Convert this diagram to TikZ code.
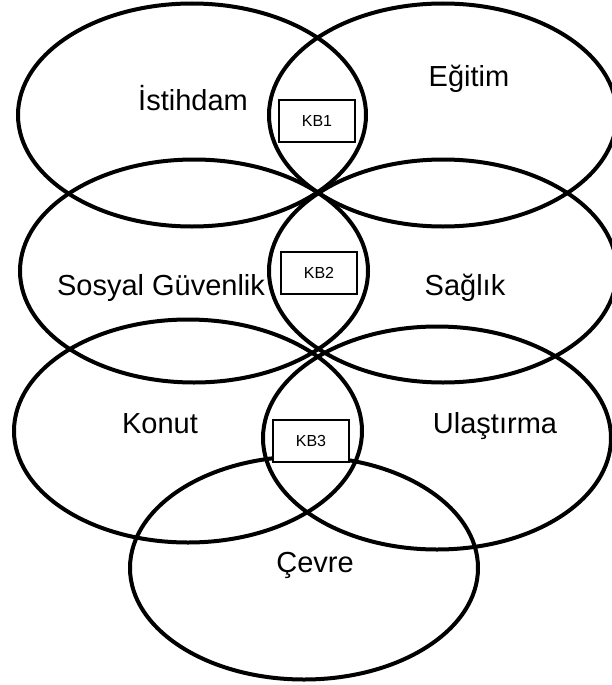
\documentclass[tikz,border=0pt]{standalone}
\usepackage{fontspec}
\setmainfont{Liberation Sans}
\usetikzlibrary{shapes.geometric}
\tikzset{
  area/.style={
    draw=black,ellipse,line width=4pt,minimum width=348pt,minimum height=223pt,inner sep=0pt,
  },
  arealabel/.style={
    anchor=base,inner sep=0pt,font=\fontsize{29}{30}\selectfont,
  },
  kbbox/.style={
    draw=black,fill=white,line width=1.2pt,minimum width=76pt,minimum height=42pt,inner sep=0pt,
    font=\fontsize{16}{17}\selectfont,
  },
}

\begin{document}
\begin{tikzpicture}[x=1pt,y=-1pt]
    \useasboundingbox (0,0) rectangle (612,685);
    \clip (0,0) rectangle (612,685);
    % areas
    \node [area] (istihdam) at (192,115) {};
    \node [area] (egitim) at (443,115) {};
    \node [area] (sosyal) at (194,271) {};
    \node [area] (saglik) at (443,271) {};
    \node [area] (konut) at (188,431) {};
    \node [area] (ulastirma) at (437,438) {};
    \node [area] (cevre) at (304,568) {};
    % area labels
    \node [arealabel] (tistihdam) at (193,110) {İstihdam};
    \node [arealabel] (tegitim) at (469,86) {Eğitim};
    \node [arealabel] (tsosyal) at (161,295) {Sosyal Güvenlik};
    \node [arealabel] (tsaglik) at (465,295) {Sağlık};
    \node [arealabel] (tkonut) at (160,433) {Konut};
    \node [arealabel] (tulastirma) at (495,433) {Ulaştırma};
    \node [arealabel] (tcevre) at (315,572) {Çevre};
    % intersections
    \node [kbbox] (kb1) at (317,121) {KB1};
    \node [kbbox] (kb2) at (319,273) {KB2};
    \node [kbbox] (kb3) at (311,441) {KB3};
\end{tikzpicture}
\end{document}
